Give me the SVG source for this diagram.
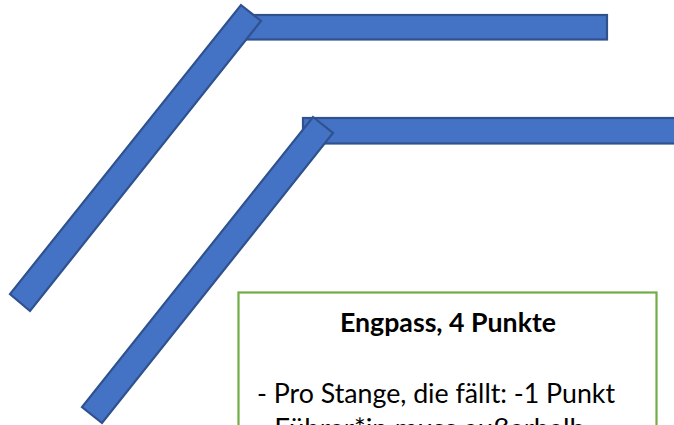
<svg xmlns="http://www.w3.org/2000/svg" width="674" height="425" viewBox="0 0 674 425">
<style>
.bar{fill:#4472C4;stroke:#2F528F;stroke-width:2.2;stroke-linejoin:miter}
.box{fill:#FFFFFF;stroke:#70AD47;stroke-width:2.2}
.t{font-family:Lato,"Liberation Sans",sans-serif;fill:#000000;font-size:26px}
.b{font-weight:bold}
</style>
<rect x="0" y="0" width="674" height="425" fill="#FFFFFF"/>
<g id="stange-oben">
<rect class="bar" x="240" y="15" width="367" height="24.5"/>
<polygon class="bar" points="241,5 261,21 30,311 10,294"/>
</g>
<g id="stange-unten">
<rect class="bar" x="303" y="118" width="385" height="25.5"/>
<polygon class="bar" points="313,117 333,133 102,423 82,407"/>
</g>
<g id="textbox">
<rect class="box" x="238.5" y="292.5" width="418" height="160"/>
<text class="t b" x="448" y="332" text-anchor="middle" textLength="216" lengthAdjust="spacingAndGlyphs">Engpass, 4 Punkte</text>
<text class="t" x="257" y="402.5" textLength="358" lengthAdjust="spacingAndGlyphs">- Pro Stange, die fällt: -1 Punkt</text>
<text class="t" x="257" y="437.5" textLength="328" lengthAdjust="spacingAndGlyphs">- Führer*in muss außerhalb</text>
</g>
</svg>
